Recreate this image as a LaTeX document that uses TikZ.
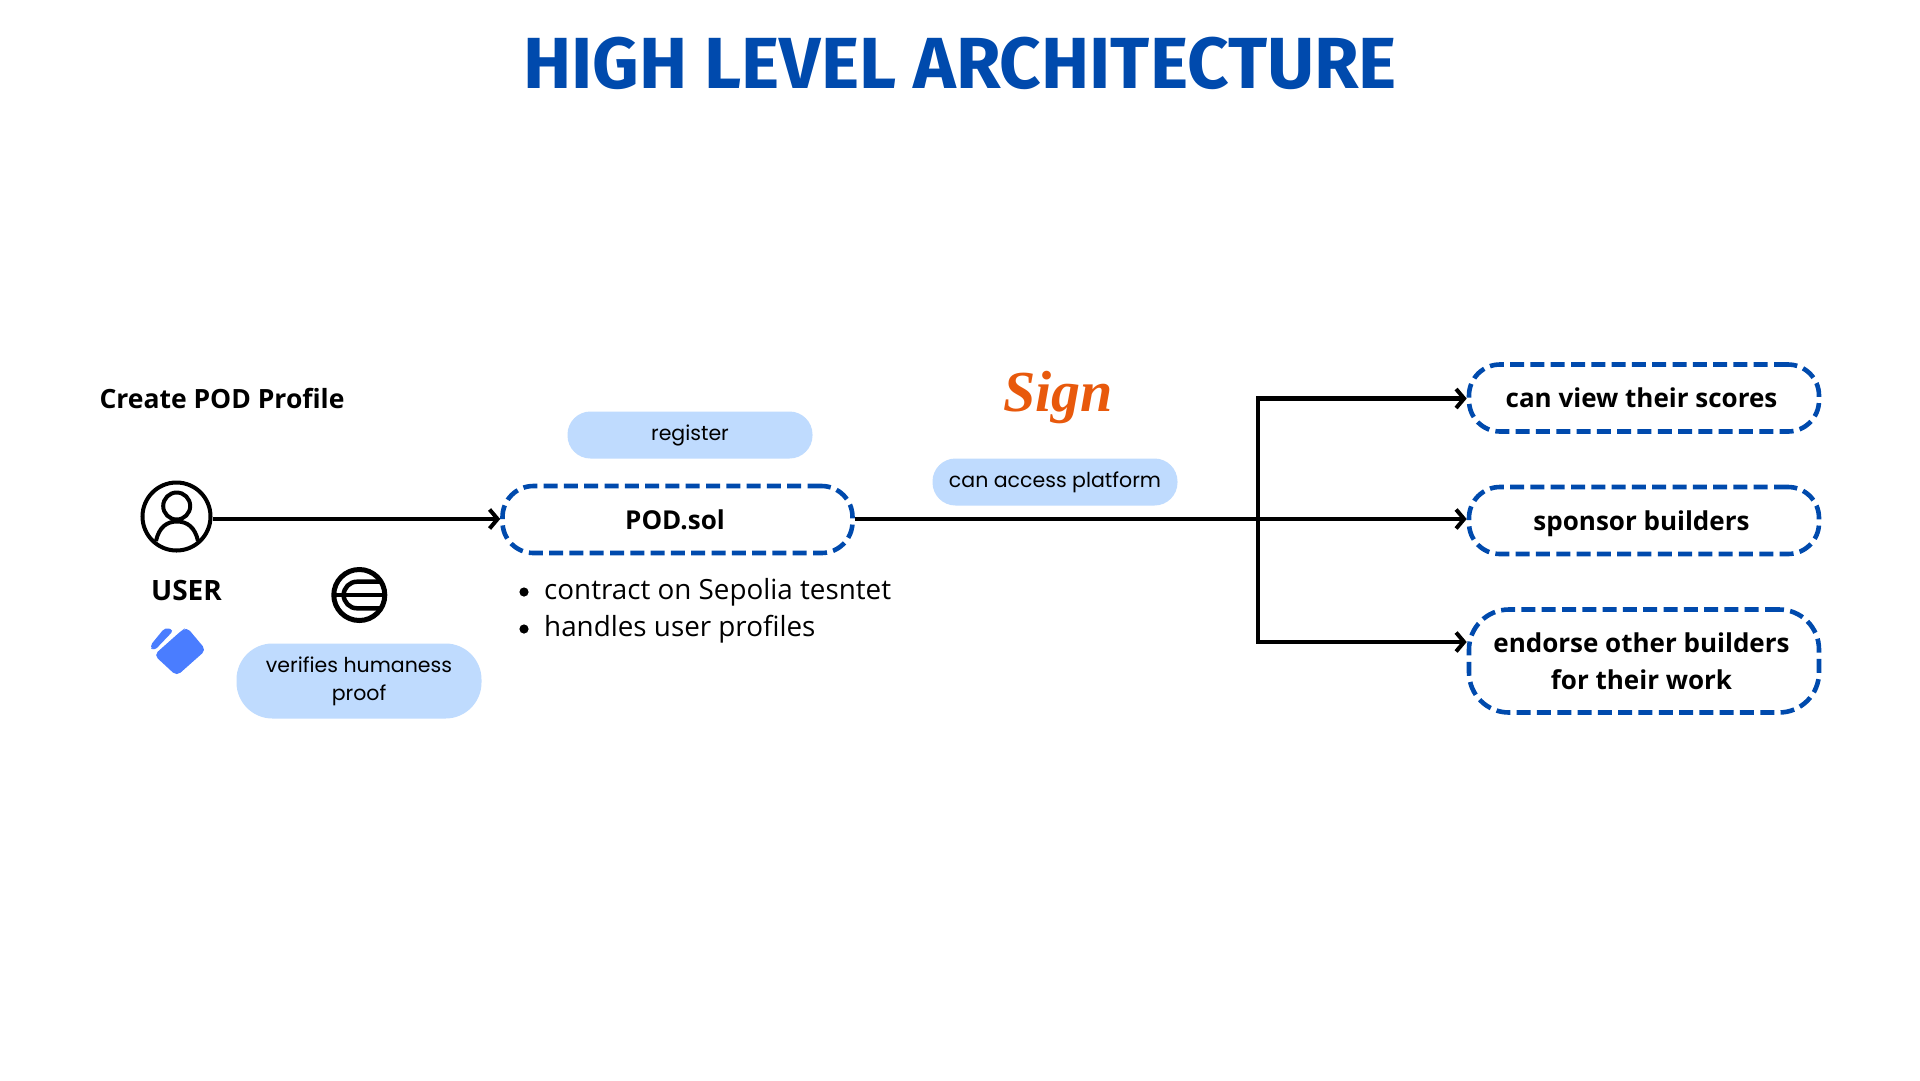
\documentclass[tikz,border=0pt]{standalone}
\usepackage{fontspec}
\usetikzlibrary{arrows.meta,calc}
\setmainfont{Open Sans}
\newfontfamily\popf{Poppins}
\newfontfamily\titlef{Fira Sans}
\newfontfamily\signf{Liberation Serif}
\definecolor{brandblue}{HTML}{004AAD}
\definecolor{pillblue}{HTML}{BFDBFE}
\definecolor{walletblue}{HTML}{4A7DFF}
\definecolor{signorange}{HTML}{E8590C}
\newcommand{\boxtext}[1]{\rule[-8.6pt]{0pt}{37pt}#1\hspace*{5pt}}
\tikzset{
  x=1pt,y=-1pt,
  dashbox/.style={draw=brandblue,line width=4.6pt,dash pattern=on 14pt off 6.3pt,rounded corners=31pt,
    font=\fontsize{26}{37}\selectfont\bfseries,align=center,inner sep=0pt},
  pill/.style={fill=pillblue,font=\popf\fontsize{20.5}{28}\selectfont,align=center,inner sep=0pt,text=black},
  conn/.style={line width=4.4pt,black},
  arr/.style={conn,-{Straight Barb[length=8pt,width=19pt,line width=4pt]}},
  label/.style={font=\fontsize{27.8}{37}\selectfont,inner sep=0pt,anchor=west},
  boldlabel/.style={font=\fontsize{26.5}{37}\selectfont\bfseries,inner sep=0pt},
  iconline/.style={draw=black,line width=4pt},
}
\begin{document}
\begin{tikzpicture}
\useasboundingbox (0,0) rectangle (1920,1080);
\fill[white] (0,0) rectangle (1920,1080);

\node[inner sep=0pt,text=brandblue,font=\titlef\fontsize{72.4}{80}\selectfont\bfseries] (title) at (960,63) {HIGH LEVEL ARCHITECTURE};

\node[boldlabel] (create) at (222,398) {Create POD Profile};
\node[boldlabel,font=\fontsize{28}{37}\selectfont\bfseries] (userlabel) at (186.5,590) {USER};

% user icon
\node[circle,draw=black,line width=4pt,minimum size=68pt,inner sep=0pt] (user) at (176.5,516.5) {};
\draw[iconline] (176.7,506) circle (13.5);
\draw[iconline] (156,541) .. controls (159,527) and (167,521.5) .. (177,521.5) .. controls (187,521.5) and (195,527) .. (198,541);

% wallet icon
\fill[walletblue,rounded corners=5pt] (186.7,627) -- (206,650) -- (176.7,676) -- (154,655) -- (181,631) -- cycle;
\fill[walletblue,rounded corners=4pt] (149.5,646.5) -- (165,627.5) -- (174,630) -- (154,651) -- cycle;

% world icon
\draw[iconline,line width=5pt] (359.3,595) circle (25.5);
\draw[iconline,line width=4.5pt] (333,595) -- (385,595);
\draw[iconline,line width=4.5pt] (381,581.7) -- (357,581.7) arc[start angle=270,end angle=90,radius=13.3] -- (381,608.3);

\node[pill,minimum width=245pt,minimum height=47pt,rounded corners=23pt] (register) at (690,435) {register};
\node[pill,minimum width=245pt,minimum height=47pt,rounded corners=23pt] (access) at (1055,482) {can access platform};
\node[pill,minimum width=245pt,minimum height=75pt,rounded corners=36pt] (verify) at (359,681) {verifies humaness\\proof};

\node[dashbox,minimum width=350pt,minimum height=67pt] (pod) at (677.5,519.5) {\boxtext{POD.sol}};
\node[dashbox,minimum width=350pt,minimum height=67pt] (scores) at (1644,398) {\boxtext{can view their scores}};
\node[dashbox,minimum width=350pt,minimum height=67pt] (sponsor) at (1644,520.5) {\boxtext{sponsor builders}};
\node[dashbox,minimum width=350pt,minimum height=103pt,rounded corners=40pt] (endorse) at (1644,661) {\boxtext{endorse other builders}\\\boxtext{for their work}};

\fill (524,592) circle (4.6) coordinate (b1);
\fill (524,629) circle (4.6) coordinate (b2);
\node[label] (l1) at (544,592) {contract on Sepolia tesntet};
\node[label] (l2) at (544,629) {handles user profiles};

\node[inner sep=0pt,text=signorange,font=\signf\fontsize{58}{70}\selectfont\bfseries\itshape] (sign) at (1058,398) {Sign};

\coordinate (jmid) at (1258,519);
\coordinate (jtop) at (1258,398.5);
\coordinate (jbot) at (1258,642);
\draw[arr] (user.east |- jmid) -- (jmid -| pod.west);
\draw[conn] (pod.east |- jmid) -- (jmid);
\draw[arr] (jmid) -- (jmid -| sponsor.west);
\draw[conn,line cap=rect] (jtop) -- (jbot);
\draw[arr] (jtop) -- (jtop -| scores.west);
\draw[arr] (jbot) -- (jbot -| endorse.west);
\end{tikzpicture}
\end{document}
